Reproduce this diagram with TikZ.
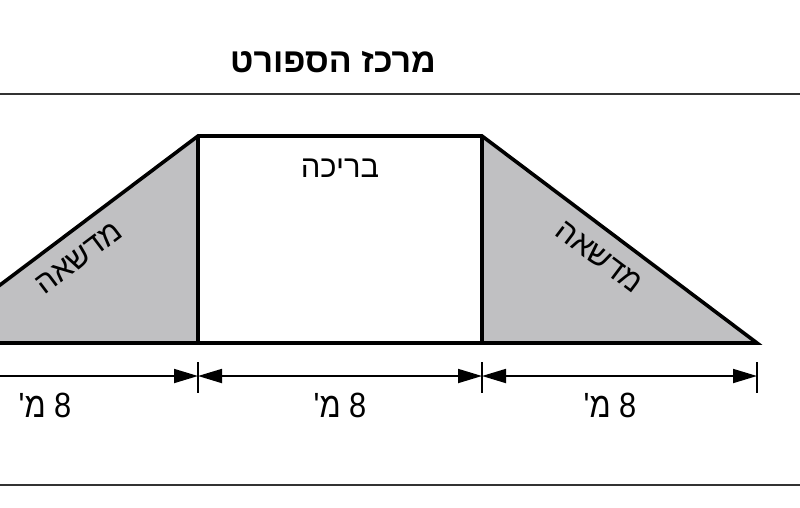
\documentclass[tikz,border=0pt]{standalone}
\usepackage{fontspec}
\usetikzlibrary{arrows.meta}
\TeXXeTstate=1
\newfontfamily\heb[Script=Hebrew]{Liberation Sans}
\definecolor{lawn}{RGB}{192,192,194}
\definecolor{rule}{RGB}{50,50,50}
\tikzset{
  outline/.style={line width=3.6pt, line join=miter},
  dimline/.style={line width=1.8pt},
  dimtip/.style={-{Triangle[length=24pt,width=14pt]}},
  dimtips/.style={{Triangle[length=24pt,width=14pt]}-{Triangle[length=24pt,width=14pt]}},
  tick/.style={line width=1.8pt},
  hrule/.style={line width=2.6pt, draw=rule},
  lbl/.style={font=\heb\fontsize{31}{31}\selectfont, inner sep=0pt},
  dimlbl/.style={font=\heb\fontsize{35}{35}\selectfont, inner sep=0pt, xscale=0.88},
  titlelbl/.style={font=\heb\bfseries\fontsize{34}{34}\selectfont, inner sep=0pt}
}
\begin{document}
\begin{tikzpicture}[x=1pt,y=-1pt]
\useasboundingbox (0,0) rectangle (800,507);
\clip (0,0) rectangle (800,507);
% key points
\coordinate (LL) at (-77,343);
\coordinate (A) at (198,343);
\coordinate (B) at (198,136);
\coordinate (C) at (482,136);
\coordinate (D) at (482,343);
\coordinate (E) at (757,343);
% fills
\fill[lawn] (LL) -- (B) -- (A) -- cycle;
\fill[lawn] (C) -- (E) -- (D) -- cycle;
% outline
\draw[outline] (LL) -- (B) -- (C) -- (E) -- cycle;
\draw[outline] (B) -- (A);
\draw[outline] (C) -- (D);
% horizontal rules
\coordinate (T1) at (0,94);
\coordinate (T2) at (800,94);
\coordinate (R1) at (0,485);
\coordinate (R2) at (800,485);
\draw[hrule] (T1) -- (T2);
\draw[hrule] (R1) -- (R2);
% dimension ticks
\coordinate (ka1) at (198,362); \coordinate (ka2) at (198,393);
\coordinate (kd1) at (482,362); \coordinate (kd2) at (482,393);
\coordinate (ke1) at (757,362); \coordinate (ke2) at (757,393);
\draw[tick] (ka1) -- (ka2);
\draw[tick] (kd1) -- (kd2);
\draw[tick] (ke1) -- (ke2);
% dimension lines
\coordinate (m0) at (-5,376);
\coordinate (ma) at (198,376);
\coordinate (md) at (482,376);
\coordinate (me) at (757,376);
\draw[dimline, dimtip] (m0) -- (ma);
\draw[dimline, dimtips] (ma) -- (md);
\draw[dimline, dimtips] (md) -- (me);
% labels
\node[titlelbl] (title) at (333,62) {\beginR מרכז הספורט\endR};
\node[lbl] (pool) at (340,168) {\beginR בריכה\endR};
\node[lbl, rotate=37] (lawnL) at (79,258) {\beginR מדשאה\endR};
\node[lbl, rotate=-37] (lawnR) at (599,257) {\beginR מדשאה\endR};
\node[dimlbl] (d1) at (45,405) {\beginR 8 מ'\endR};
\node[dimlbl] (d2) at (340,405) {\beginR 8 מ'\endR};
\node[dimlbl] (d3) at (610,405) {\beginR 8 מ'\endR};
\end{tikzpicture}
\end{document}
